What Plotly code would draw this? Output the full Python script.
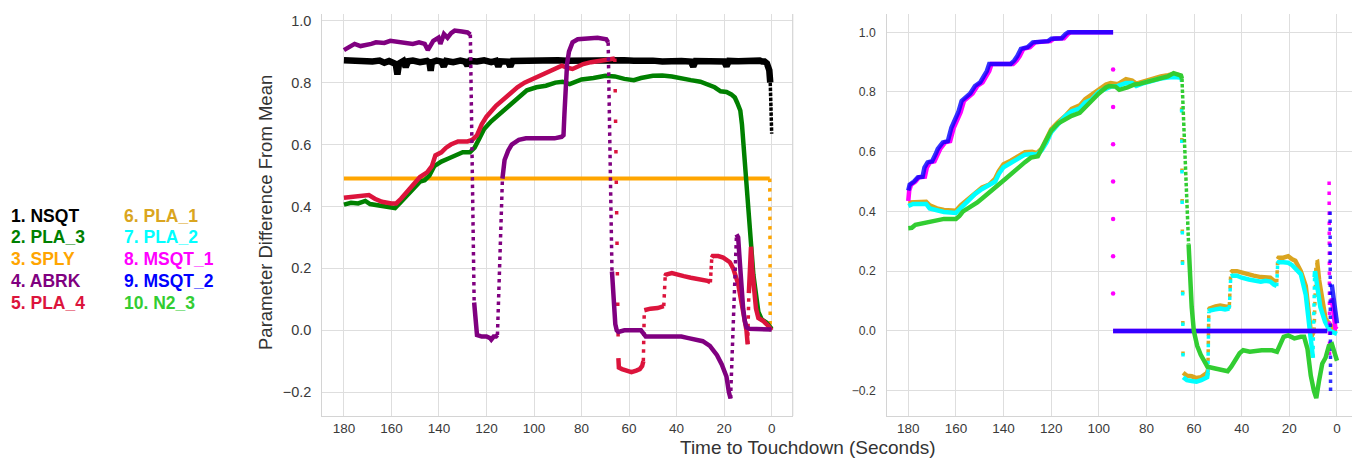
import plotly.graph_objects as go

# ---------------- data ----------------
LEGEND_COL1 = ["1. NSQT", "2. PLA_3", "3. SPLY", "4. ABRK", "5. PLA_4"]
LEGEND_COL2 = ["6. PLA_1", "7. PLA_2", "8. MSQT_1", "9. MSQT_2", "10. N2_3"]
X_TICKS = [180, 160, 140, 120, 100, 80, 60, 40, 20, 0]
Y_TICKS = [-0.2, 0.0, 0.2, 0.4, 0.6, 0.8, 1.0]

# ---- left panel ----
NSQT_T = [180, 176, 172, 168, 165, 163, 161, 159, 158.2, 157.5, 156.8, 155, 154, 153, 151, 148, 145,
          144, 143.5, 143, 141, 139, 138, 137, 134, 131, 129, 128, 127, 124, 121, 118, 116, 115, 114,
          111, 110, 109, 106, 103, 100, 97, 94, 90, 86, 82, 78, 74, 70, 66, 62, 58, 54, 50, 46, 42,
          38, 34, 33, 32, 28, 24, 20, 19, 18, 14, 10, 7, 5, 4, 3, 2, 1.5, 1, 0.6, 0.3, 0]
NSQT_V = [0.872, 0.870, 0.872, 0.868, 0.871, 0.864, 0.870, 0.866, 0.860, 0.826, 0.862, 0.870, 0.850, 0.869,
          0.871, 0.866, 0.870, 0.864, 0.838, 0.866, 0.871, 0.868, 0.852, 0.870, 0.866, 0.871, 0.868,
          0.855, 0.870, 0.868, 0.872, 0.866, 0.870, 0.852, 0.869, 0.868, 0.852, 0.870, 0.871, 0.868,
          0.872, 0.870, 0.871, 0.872, 0.871, 0.872, 0.871, 0.872, 0.872, 0.871, 0.872, 0.871, 0.872,
          0.871, 0.868, 0.871, 0.870, 0.868, 0.852, 0.870, 0.868, 0.871, 0.868, 0.853, 0.870, 0.869,
          0.871, 0.870, 0.871, 0.868, 0.868, 0.862, 0.855, 0.840, 0.800, 0.720, 0.635]
NSQT_JUMPS = [(0.6, 0.800), (0.3, 0.720)]

SPLY_T = [180, 0.8, 0.6]
SPLY_V = [0.490, 0.490, 0.0]
SPLY_JUMPS = [(0.8, 0.490)]

PLA3_T = [180, 177, 174, 171, 169, 166, 163, 160, 158.5, 156, 153, 150, 148, 146, 144, 142, 139, 136,
          133, 130, 127, 125, 123, 121, 118, 115, 112, 109, 106, 103, 99, 95, 91, 88, 85, 83, 80, 75,
          70, 66, 62, 58, 55, 50, 46, 42, 38, 34, 30, 27, 24, 21.5, 19, 17, 15.5, 14.5, 13.2, 12.5,
          11.7, 10.6, 9.9, 9.2, 8.5, 7.7, 7.0, 6.3, 5.6, 4.2, 2.1, 0]
PLA3_V = [0.406, 0.412, 0.410, 0.418, 0.408, 0.405, 0.400, 0.398, 0.395, 0.415, 0.440, 0.465, 0.480,
          0.485, 0.500, 0.530, 0.545, 0.555, 0.565, 0.575, 0.575, 0.590, 0.620, 0.650, 0.675, 0.695,
          0.715, 0.735, 0.755, 0.775, 0.785, 0.790, 0.800, 0.803, 0.795, 0.800, 0.810, 0.815, 0.822,
          0.820, 0.812, 0.808, 0.815, 0.822, 0.823, 0.820, 0.813, 0.808, 0.803, 0.795, 0.785, 0.772,
          0.770, 0.762, 0.752, 0.735, 0.710, 0.665, 0.580, 0.490, 0.400, 0.300, 0.240, 0.180, 0.140,
          0.100, 0.060, 0.035, 0.025, 0.005]
PLA3_JUMPS = []

PLA4_T = [180, 177, 172, 169.5, 167, 164, 160, 158, 156, 153, 150, 148, 145, 143, 141.5, 139, 137, 135,
          132, 128, 126, 124, 122, 120, 116, 113, 110, 107, 104, 100, 97, 94, 91, 88.3, 86, 83.8,
          81.5, 79.3, 76, 73, 70, 67.3, 66.0,
          64.5, 64.3, 63, 61, 59, 57, 55.5, 54.5, 54.0,
          53.6, 51, 48, 46, 45.4,
          44.8, 44.5, 42, 40, 37, 34, 31, 29, 27, 25.8,
          25.2, 24.8, 22.5, 20.4, 17.6, 16.2, 14.1, 12.7, 11.3, 10.6, 10.1,
          9.6, 8.7, 8.2, 7.5, 6.6, 5.6, 3.5, 1.5, 0]
PLA4_V = [0.428, 0.430, 0.432, 0.437, 0.425, 0.415, 0.410, 0.410, 0.425, 0.450, 0.480, 0.495, 0.510,
          0.530, 0.565, 0.575, 0.590, 0.600, 0.610, 0.610, 0.615, 0.630, 0.665, 0.690, 0.725, 0.745,
          0.765, 0.785, 0.800, 0.815, 0.825, 0.835, 0.845, 0.855, 0.848, 0.844, 0.852, 0.860, 0.866,
          0.870, 0.874, 0.876, 0.878,
          -0.090, -0.120, -0.125, -0.130, -0.135, -0.130, -0.125, -0.115, -0.100,
          0.065, 0.070, 0.072, 0.075, 0.078,
          0.175, 0.180, 0.185, 0.180, 0.175, 0.170, 0.165, 0.165, 0.160, 0.155,
          0.235, 0.240, 0.240, 0.235, 0.220, 0.200, 0.150, 0.090, 0.050, 0.000, -0.045,
          0.120, 0.270, 0.200, 0.120, 0.070, 0.040, 0.030, 0.015, 0.000]
PLA4_JUMPS = [(66.0, 0.878), (54.0, -0.100), (45.4, 0.078), (25.8, 0.155), (10.1, -0.045)]

ABRK_T = [180, 177.5, 175.5, 173, 171, 168.5, 166.5, 163, 160.5, 157.5, 154.5, 151, 148.4, 146, 144.7,
          143.5, 142.4, 140.2, 139.4, 137.9, 136.4, 134.9, 133.4, 130.4, 128, 126.8,
          125.2, 124.8, 124.4, 124, 122, 120, 118.5, 118, 117, 116, 115.4,
          113.3, 112.4, 110.9, 109.4, 106.4, 103.4, 99, 95.9, 91.4, 88.4, 87.6, 87.2, 86.5, 86.1,
          85.3, 83.8, 81.6, 77, 73.3, 69.6, 68.8,
          67.2, 66.8, 66.4, 65.8, 65.2, 64.5, 62, 58, 55, 54, 53, 45, 38, 35, 32, 29, 26, 23, 21,
          19, 18, 17.3,
          14.8, 14.1, 13.4, 12.7, 12, 11.3, 10.6, 9.5, 0]
ABRK_V = [0.905, 0.915, 0.925, 0.918, 0.920, 0.925, 0.930, 0.928, 0.935, 0.932, 0.930, 0.925, 0.930,
          0.925, 0.905, 0.925, 0.935, 0.945, 0.925, 0.957, 0.945, 0.960, 0.968, 0.965, 0.962, 0.955,
          0.090, 0.050, 0.000, -0.015, -0.020, -0.020, -0.025, -0.030, -0.020, -0.020, -0.015,
          0.490, 0.550, 0.580, 0.600, 0.615, 0.620, 0.620, 0.620, 0.620, 0.625, 0.630, 0.700, 0.800,
          0.860, 0.900, 0.930, 0.940, 0.943, 0.945, 0.940, 0.930,
          0.190, 0.120, 0.060, 0.020, 0.000, -0.005, 0.000, 0.000, 0.000, -0.010, -0.020, -0.020,
          -0.020, -0.025, -0.030, -0.035, -0.050, -0.080, -0.110, -0.150, -0.200, -0.220,
          0.310, 0.300, 0.220, 0.120, 0.070, 0.030, 0.010, 0.005, 0.003]
ABRK_JUMPS = [(126.8, 0.955), (115.4, -0.015), (68.8, 0.930), (17.3, -0.220)]

# ---- right panel ----
PLA1_T = [180, 176, 172.5, 171, 168, 165, 160, 158, 155, 152, 149, 146, 143.5, 142, 140, 137, 134, 131,
          128, 126, 124, 122, 120, 117, 114, 111.4, 108, 105.7, 103, 100, 97, 95, 92, 88.6, 86, 84.3,
          81, 77.2, 74, 71, 68.6, 66, 65.3,
          64.6, 63, 61, 59, 57, 55.5, 54.5, 54.2,
          53.8, 53.5, 51, 49, 47, 45.5, 45.2,
          44.6, 44, 42, 40, 37, 35, 32, 30, 28, 26.5, 25.3,
          24.9, 24.5, 22.5, 20.5, 18.8, 17.5, 15.2, 13.1, 11.7, 10.8, 9.6,
          8.8, 8.3, 7.5, 6.2, 4.8, 2.8, 0.7, 0]
PLA1_V = [0.430, 0.430, 0.432, 0.420, 0.410, 0.405, 0.402, 0.420, 0.440, 0.462, 0.480, 0.490, 0.510,
          0.535, 0.558, 0.570, 0.585, 0.598, 0.600, 0.595, 0.610, 0.640, 0.675, 0.700, 0.720, 0.743,
          0.755, 0.776, 0.790, 0.810, 0.825, 0.830, 0.826, 0.843, 0.838, 0.828, 0.836, 0.847, 0.852,
          0.856, 0.860, 0.856, 0.850,
          -0.140, -0.150, -0.152, -0.158, -0.155, -0.148, -0.140, -0.130,
          0.070, 0.075, 0.082, 0.085, 0.082, 0.080, 0.085,
          0.195, 0.200, 0.200, 0.195, 0.190, 0.185, 0.180, 0.180, 0.178, 0.168, 0.163,
          0.240, 0.245, 0.245, 0.250, 0.240, 0.235, 0.200, 0.150, 0.050, -0.020, 0.000,
          0.228, 0.230, 0.170, 0.100, 0.040, 0.020, 0.000, 0.000]
PLA1_JUMPS = [(65.3, 0.850), (54.2, -0.130), (45.2, 0.085), (25.3, 0.163), (9.6, 0.000)]

PLA2_T = [180, 178, 175, 172.5, 171, 168, 165, 160, 158, 155, 152, 149, 146, 143.5, 142, 140, 137, 134,
          131, 128, 126, 124, 122, 120, 117, 114, 111.4, 108, 105.7, 103, 100, 97, 95, 92, 88.6, 86,
          84.3, 81, 77.2, 74, 71, 68.6, 66, 65.3,
          64.6, 63, 61, 59, 57, 55.5, 54.5, 54.2,
          53.8, 53.5, 51, 49, 47, 45.5, 45.2,
          44.6, 44, 42, 40, 37, 35, 32, 30, 28, 26.5, 25.3,
          24.9, 24.5, 22.5, 20.5, 18.8, 17.5, 15.2, 13.1, 12, 11.3, 10.1,
          9.4, 9.2, 8.3, 7.0, 5.0, 3.0, 0]
PLA2_V = [0.418, 0.425, 0.425, 0.425, 0.410, 0.405, 0.398, 0.395, 0.410, 0.435, 0.458, 0.475, 0.490,
          0.500, 0.525, 0.548, 0.562, 0.578, 0.590, 0.592, 0.590, 0.605, 0.630, 0.665, 0.690, 0.720,
          0.735, 0.745, 0.765, 0.775, 0.800, 0.812, 0.818, 0.820, 0.830, 0.830, 0.820, 0.830, 0.840,
          0.845, 0.848, 0.850, 0.848, 0.845,
          -0.155, -0.165, -0.168, -0.170, -0.165, -0.160, -0.155, -0.140,
          0.065, 0.068, 0.072, 0.075, 0.072, 0.072, 0.075,
          0.183, 0.185, 0.185, 0.178, 0.172, 0.170, 0.165, 0.168, 0.165, 0.155, 0.150,
          0.225, 0.230, 0.230, 0.228, 0.220, 0.210, 0.190, 0.120, 0.050, 0.000, -0.090,
          0.180, 0.200, 0.150, 0.080, 0.030, 0.000, -0.010]
PLA2_JUMPS = [(65.3, 0.845), (54.2, -0.140), (45.2, 0.075), (25.3, 0.150), (10.1, -0.090)]

MSQT1_T = [180, 179.6, 178.8, 177, 175.5, 173, 172.2, 170.9, 169, 167.5, 166.6, 164.5, 162.4, 160.9,
           159.5, 158, 156.6, 154.5, 153, 151, 148.8, 147.5, 146, 145, 136, 134.5, 133.2, 131.7,
           128.9, 126.7, 120.3, 118.9, 114.6, 112.9, 111.8, 94,
           None, 94, 4.1,
           None, 3.3, 3.1,
           None, 2.2, 0.7, 0]
MSQT1_V = [0.435, 0.470, 0.490, 0.500, 0.514, 0.516, 0.547, 0.564, 0.568, 0.592, 0.609, 0.631, 0.635,
           0.680, 0.704, 0.732, 0.770, 0.782, 0.795, 0.820, 0.832, 0.850, 0.870, 0.894, 0.894, 0.905,
           0.920, 0.944, 0.950, 0.966, 0.970, 0.978, 0.980, 0.994, 1.000, 1.000,
           None, 0.000, 0.000,
           None, 0.500, -0.090,
           None, 0.110, 0.010, 0.005]
MSQT1_JUMPS = [(3.3, 0.500)]
MSQT1_DROP_T = [94, 94, 94, 94, 94, 94, 94]
MSQT1_DROP_V = [0.875, 0.750, 0.625, 0.500, 0.375, 0.250, 0.125]

MSQT2_T = [180, 179.4, 177.6, 176, 174, 173.2, 171.9, 170, 168.5, 167.6, 165.5, 163.4, 161.9, 160.5,
           159, 157.6, 155.5, 154, 152, 149.8, 148.5, 147, 146, 137, 135.5, 134.2, 132.7, 129.9,
           127.7, 121.3, 119.9, 115.6, 113.9, 112.8, 94,
           None, 94, 4.1,
           None, 2.9, 2.7,
           None, 2.2, 0]
MSQT2_V = [0.470, 0.490, 0.500, 0.514, 0.516, 0.547, 0.564, 0.568, 0.592, 0.609, 0.631, 0.635, 0.680,
           0.704, 0.732, 0.770, 0.782, 0.795, 0.820, 0.832, 0.850, 0.870, 0.894, 0.894, 0.905, 0.920,
           0.944, 0.950, 0.966, 0.970, 0.978, 0.980, 0.994, 1.000, 1.000,
           None, 0.000, 0.000,
           None, 0.400, -0.207,
           None, 0.155, 0.025]
MSQT2_JUMPS = [(2.9, 0.400)]

N23_T = [180, 178.5, 177, 174, 171, 168, 165, 160, 158.5, 157, 154, 151, 148, 145.5, 142, 139, 137, 134,
         131, 128.5, 125.6, 123, 120, 117, 114, 111.4, 108, 105, 102.8, 100, 97, 95.7, 93, 91.4, 88,
         85, 82.9, 79, 76, 74.3, 71, 68.6, 66.5, 65.5, 65.1,
         62.3, 61.9, 61.5, 61.0, 60.1, 58.7, 57.2, 55.8, 54.4, 51.6, 47.3, 45.9, 44.4, 43, 40.9,
         39.4, 36.6, 31.6, 27.3, 25.2, 23.6, 22.4, 20.5, 17.9, 15.2, 13.8, 12.4, 11.0, 9.7, 8.7,
         7.6, 6.2, 4.8, 3.4, 2.1, 0.7, 0]
N23_V = [0.344, 0.345, 0.355, 0.360, 0.365, 0.370, 0.375, 0.375, 0.385, 0.400, 0.415, 0.430, 0.450,
         0.465, 0.490, 0.510, 0.525, 0.545, 0.565, 0.580, 0.585, 0.625, 0.670, 0.695, 0.710, 0.720,
         0.730, 0.755, 0.771, 0.795, 0.815, 0.820, 0.818, 0.807, 0.815, 0.825, 0.827, 0.835, 0.840,
         0.844, 0.852, 0.863, 0.860, 0.855, 0.845,
         0.290, 0.220, 0.160, 0.080, 0.000, -0.050, -0.080, -0.100, -0.120, -0.125, -0.130, -0.135,
         -0.120, -0.100, -0.075, -0.065, -0.070, -0.065, -0.065, -0.070, -0.045, -0.020, -0.015,
         -0.025, -0.020, -0.020, -0.060, -0.150, -0.200, -0.225, -0.170, -0.110, -0.090, -0.050,
         -0.045, -0.080, -0.100]
N23_JUMPS = [(65.1, 0.845)]

# ---------------- styling ----------------
FONT = "Liberation Sans, Arial, sans-serif"
GRID = "#dedede"
SPINE = "#d4d4d4"
W, H = 1352, 459
MT, MB = 14, 43

fig = go.Figure()


def add_series(T, V, jumps, color, xa, ya, width=4.5, jdash="3.5px,4px", jwidth=3.5,
               opacity=1.0, jdash_over=None):
    jumps = set(jumps)
    sx, sy = [], []
    dsegs = []
    for i in range(len(T)):
        if i > 0 and T[i - 1] is not None and T[i] is not None and (T[i - 1], V[i - 1]) in jumps:
            dsegs.append((T[i - 1], V[i - 1], T[i], V[i]))
            sx.append(None)
            sy.append(None)
        sx.append(T[i])
        sy.append(V[i])
    fig.add_trace(go.Scatter(x=sx, y=sy, mode="lines", xaxis=xa, yaxis=ya, opacity=opacity,
                             line=dict(color=color, width=width), hoverinfo="skip"))
    for (t0, v0, t1, v1) in dsegs:
        d = jdash
        if jdash_over and (t0, v0) in jdash_over:
            d = jdash_over[(t0, v0)]
        fig.add_trace(go.Scatter(x=[t0, t1], y=[v0, v1], mode="lines", xaxis=xa, yaxis=ya,
                                 opacity=opacity,
                                 line=dict(color=color, width=jwidth, dash=d), hoverinfo="skip"))


# left panel
add_series(SPLY_T, SPLY_V, SPLY_JUMPS, "#FFA500", "x", "y", width=4, jdash="3.5px,6px")
add_series(NSQT_T, NSQT_V, NSQT_JUMPS, "#000000", "x", "y", width=6.5, jdash="3.5px,1.5px")
add_series(PLA3_T, PLA3_V, PLA3_JUMPS, "#008000", "x", "y", width=4.5)
add_series(PLA4_T, PLA4_V, PLA4_JUMPS, "#DC143C", "x", "y", width=4.5, jdash="3.5px,5px",
           jdash_over={(66.0, 0.878): "3.5px,27px", (25.8, 0.155): "3.5px,3px"})
add_series(ABRK_T, ABRK_V, ABRK_JUMPS, "#800080", "x", "y", width=4.5, jdash="3.5px,4px")

# right panel
add_series(PLA1_T, PLA1_V, PLA1_JUMPS, "#DAA520", "x2", "y2", width=4.5, jdash="3.5px,5px",
           jdash_over={(65.3, 0.850): "3.5px,27px"})
add_series(PLA2_T, PLA2_V, PLA2_JUMPS, "#00FFFF", "x2", "y2", width=4.5, jdash="3.5px,5px",
           jdash_over={(65.3, 0.845): "3.5px,27px"})
add_series(MSQT1_T, MSQT1_V, MSQT1_JUMPS, "#FF00FF", "x2", "y2", width=4.5, jdash="3.5px,6.5px")
fig.add_trace(go.Scatter(x=MSQT1_DROP_T, y=MSQT1_DROP_V, mode="markers", xaxis="x2", yaxis="y2",
                         marker=dict(color="#FF00FF", size=4.5), hoverinfo="skip"))
add_series(MSQT2_T, MSQT2_V, MSQT2_JUMPS, "#0000FF", "x2", "y2", width=4.5, jdash="3.5px,4.5px",
           opacity=0.8)
add_series(N23_T, N23_V, N23_JUMPS, "#32CD32", "x2", "y2", width=4.5, jdash="3.5px,2px")

# axes
xdom_l = [322.3 / W, 792.7 / W]
xdom_r = [887.3 / W, 1.0]
common_x = dict(tickmode="array", tickvals=X_TICKS, ticktext=[str(v) for v in X_TICKS],
                showgrid=True, gridcolor=GRID, gridwidth=1.2, zeroline=False,
                showline=True, linecolor=SPINE, linewidth=1.2, ticks="", ticklen=0,
                tickfont=dict(family=FONT, size=13.5, color="#3a3a3a"), ticklabelstandoff=0)
common_y = dict(tickmode="array", tickvals=Y_TICKS, tickformat=".1f",
                showgrid=True, gridcolor=GRID, gridwidth=1.2, zeroline=False,
                showline=True, linecolor=SPINE, linewidth=1.2, ticks="")
fig.update_layout(
    width=W, height=H, margin=dict(l=0, r=0, t=MT, b=MB),
    paper_bgcolor="white", plot_bgcolor="white", showlegend=False,
    xaxis=dict(domain=xdom_l, range=[189.1, -8.85], anchor="y", **common_x),
    yaxis=dict(domain=[0, 1], range=[-0.2766, 1.0216], anchor="x",
               tickfont=dict(family=FONT, size=14.5, color="#3a3a3a"), ticklabelstandoff=7,
               **common_y),
    xaxis2=dict(domain=xdom_r, range=[188.8, -6.3], anchor="y2", **common_x),
    yaxis2=dict(domain=[0, 1], range=[-0.285, 1.061], anchor="x2",
                tickfont=dict(family=FONT, size=12.2, color="#3a3a3a"), ticklabelstandoff=8,
                **common_y),
)

# right spine of left panel
fig.add_shape(type="line", xref="x domain", yref="y domain", x0=1, x1=1, y0=0, y1=1,
              line=dict(color=SPINE, width=1.2))


def py2paper(py):
    return (H - MB - py) / (H - MT - MB)


# axis titles
fig.add_annotation(text="Time to Touchdown (Seconds)", xref="paper", yref="paper",
                   x=808 / W, y=py2paper(459), xanchor="center", yanchor="bottom", showarrow=False,
                   borderpad=0, font=dict(family=FONT, size=19, color="#333333"))
fig.add_annotation(text="Parameter Difference From Mean", xref="paper", yref="paper",
                   x=265 / W, y=py2paper(213), xanchor="center", yanchor="middle", showarrow=False,
                   textangle=-90, font=dict(family=FONT, size=18.5, color="#333333"))

# legend as coloured text
COL1_COLORS = ["#000000", "#008000", "#FFA500", "#800080", "#DC143C"]
COL2_COLORS = ["#DAA520", "#00FFFF", "#FF00FF", "#0000FF", "#32CD32"]
row_y = [215.7, 237.4, 259.1, 280.8, 302.5]
for lbl, col, ry in zip(LEGEND_COL1, COL1_COLORS, row_y):
    fig.add_annotation(text="<b>%s</b>" % lbl, xref="paper", yref="paper", x=9 / W, y=py2paper(ry),
                       xanchor="left", yanchor="middle", showarrow=False,
                       font=dict(family=FONT, size=17.5, color=col))
for lbl, col, ry in zip(LEGEND_COL2, COL2_COLORS, row_y):
    fig.add_annotation(text="<b>%s</b>" % lbl, xref="paper", yref="paper", x=121.5 / W,
                       y=py2paper(ry), xanchor="left", yanchor="middle", showarrow=False,
                       font=dict(family=FONT, size=17.5, color=col))

fig.write_html("out.html")
